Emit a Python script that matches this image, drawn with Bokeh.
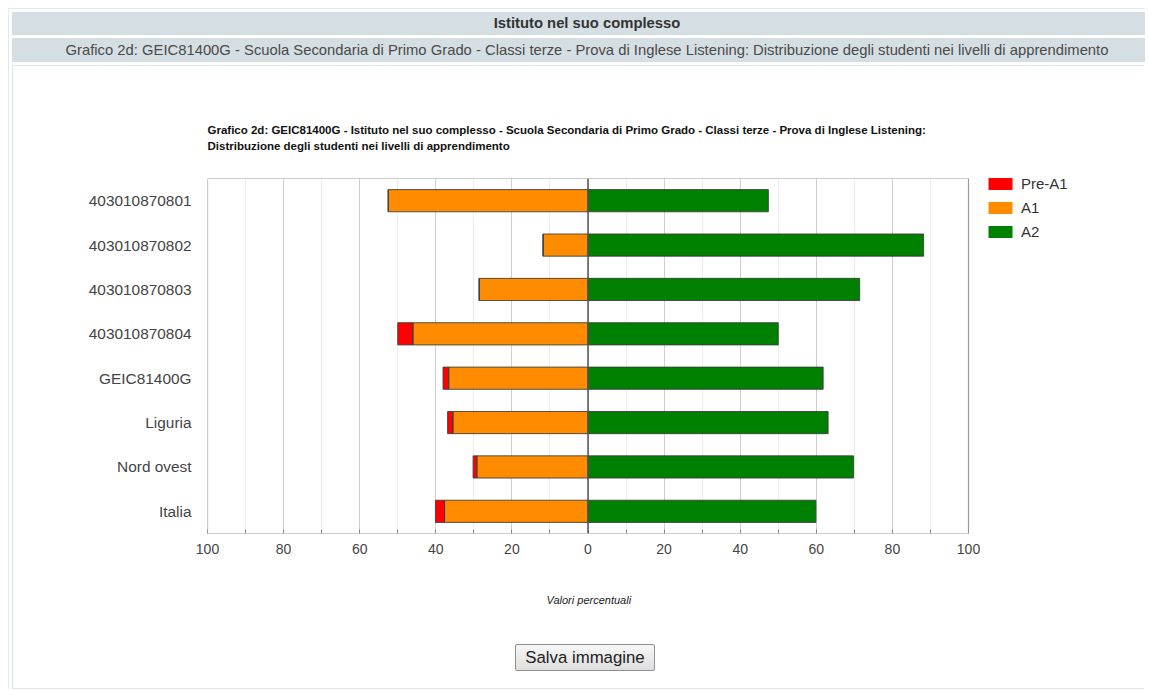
from bokeh.plotting import figure
from bokeh.models import (ColumnDataSource, FactorRange, Range1d, FixedTicker, BoxAnnotation,
                          CustomJSTickFormatter, Span, Legend, LegendItem, Div, Column, Title)
from bokeh.embed import file_html
from bokeh.resources import INLINE

# ---------------- data ----------------
categories = ["403010870801", "403010870802", "403010870803", "403010870804",
              "GEIC81400G", "Liguria", "Nord ovest", "Italia"]
pre_a1 = [0.0, 0.0, 0.0, 4.0, 1.5, 1.4, 1.0, 2.4]
a1 = [52.5, 11.8, 28.6, 46.0, 36.6, 35.5, 29.2, 37.7]
a2 = [47.4, 88.2, 71.4, 50.0, 61.8, 63.1, 69.8, 59.9]
series_labels = ["Pre-A1", "A1", "A2"]
series_colors = ["#ff0000", "#ff8c00", "#008000"]
x_ticks = [-100, -80, -60, -40, -20, 0, 20, 40, 60, 80, 100]
x_minor_ticks = [-90, -70, -50, -30, -10, 10, 30, 50, 70, 90]

header_1 = "Istituto nel suo complesso"
header_2 = ("Grafico 2d: GEIC81400G - Scuola Secondaria di Primo Grado - Classi terze - "
            "Prova di Inglese Listening: Distribuzione degli studenti nei livelli di apprendimento")
chart_title = ("Grafico 2d: GEIC81400G - Istituto nel suo complesso - Scuola Secondaria di Primo Grado - "
               "Classi terze - Prova di Inglese Listening:\nDistribuzione degli studenti nei livelli di apprendimento")
x_label = "Valori percentuali"
button_label = "Salva immagine"

FONT = "Liberation Sans"

# ---------------- source ----------------
src = ColumnDataSource(data=dict(
    cat=categories,
    a2_left=[0.0] * len(a2),
    a2_right=a2,
    a1_left=[-v for v in a1],
    a1_right=[0.0] * len(a1),
    pre_left=[-(v + w) for v, w in zip(a1, pre_a1)],
    pre_right=[-v for v in a1],
))

# plot area: the -100..100 box is 761 px wide; the frame is extended to the
# right so that the legend (outside the box) is not clipped.
FIG_W = 1131
BOX_PX = 761
FRAME_PX = 920
X_MIN = -100
X_MAX = X_MIN + 200 * FRAME_PX / BOX_PX

p = figure(frame_width=FRAME_PX, frame_height=355,
           x_range=Range1d(X_MIN, X_MAX),
           y_range=FactorRange(factors=categories[::-1]),
           output_backend="svg", toolbar_location=None,
           min_border_left=194, min_border_right=FIG_W - 194 - FRAME_PX,
           min_border_top=112, min_border_bottom=0,
           title=chart_title)
p.background_fill_color = "white"
p.border_fill_color = "white"
p.outline_line_color = None

p.title.align = "left"
p.title.vertical_align = "top"
p.title.text_font = FONT
p.title.text_font_size = "11.5px"
p.title.text_font_style = "bold"
p.title.text_color = "#111111"
p.title.text_line_height = 1.3
p.title.standoff = 49

# grid
p.ygrid.grid_line_color = None
p.xgrid.grid_line_color = "#cfcfcf"
p.xgrid.minor_grid_line_color = "#ececec"

# x axis
xa = p.xaxis[0]
xa.ticker = FixedTicker(ticks=x_ticks, minor_ticks=x_minor_ticks)
xa.formatter = CustomJSTickFormatter(code="return Math.abs(tick).toString();")
xa.axis_line_color = None
xa.major_tick_line_color = "#888888"
xa.minor_tick_line_color = "#888888"
xa.major_tick_in = 4
xa.major_tick_out = 0
xa.minor_tick_in = 4
xa.minor_tick_out = 0
xa.major_label_text_font = FONT
xa.major_label_text_font_size = "14px"
xa.major_label_text_color = "#444444"
xa.major_label_standoff = 10

# axis caption, centred under the -100..100 box
x_caption = Title(text=x_label, align="left", offset=339, vertical_align="top", standoff=74,
                  text_font=FONT, text_font_size="11px", text_font_style="italic",
                  text_color="#222222")
p.add_layout(x_caption, "below")

# y axis
ya = p.yaxis[0]
ya.axis_line_color = None
ya.major_tick_line_color = None
ya.minor_tick_line_color = None
ya.major_tick_in = 0
ya.major_tick_out = 0
ya.minor_tick_in = 0
ya.minor_tick_out = 0
ya.major_label_text_font = FONT
ya.major_label_text_font_size = "15.4px"
ya.major_label_text_color = "#444444"
ya.major_label_standoff = 16

# bars: fill-only renderers (used for legend) + outline renderers
bar_h = 0.5
fills = []
for (lcol, rcol), color in zip([("pre_left", "pre_right"), ("a1_left", "a1_right"),
                                ("a2_left", "a2_right")], series_colors):
    r = p.hbar(y="cat", left=lcol, right=rcol, height=bar_h, source=src,
               fill_color=color, line_color=None)
    fills.append(r)
for lcol, rcol in [("pre_left", "pre_right"), ("a1_left", "a1_right"), ("a2_left", "a2_right")]:
    p.hbar(y="cat", left=lcol, right=rcol, height=bar_h, source=src,
           fill_color=None, line_color="#3a3a3a", line_width=1, line_alpha=0.85)

p.add_layout(Span(location=0, dimension="height", line_color="#555555", line_width=1.5))

# box around the -100..100 plotting area (y in synthetic factor coordinates)
p.add_layout(BoxAnnotation(left=x_ticks[0], right=x_ticks[-1], bottom=0, top=len(categories),
                           fill_color=None, fill_alpha=0,
                           line_color="#999999", line_width=1.2, line_alpha=1.0))

legend = Legend(items=[LegendItem(label=lab, renderers=[r]) for lab, r in zip(series_labels, fills)],
                location=(BOX_PX + 17, 293), orientation="vertical",
                glyph_width=30, glyph_height=15, label_height=17, label_width=70, spacing=7,
                padding=0, margin=0, label_standoff=6,
                label_text_font=FONT, label_text_font_size="15px", label_text_color="#333333",
                border_line_color=None, background_fill_alpha=0)
p.add_layout(legend)

# ---------------- page elements ----------------
INNER_W = FIG_W + 2          # 1133
hdr_style = {"background-color": "#d5dfe3", "text-align": "center"}
h1 = Div(text=f'<div style="width:{INNER_W - 17}px;text-align:center;padding-left:17px;'
              f'font-family:\'{FONT}\',Arial;font-size:14.8px;font-weight:bold;color:#333;'
              f'line-height:23px;">{header_1}</div>',
         width=INNER_W, height=23, margin=0, styles=hdr_style)
h2 = Div(text=f'<div style="width:{INNER_W - 17}px;text-align:center;padding-left:17px;'
              f'font-family:\'{FONT}\',Arial;font-size:14.8px;color:#4a4a4a;'
              f'line-height:24px;">{header_2}</div>',
         width=INNER_W, height=24, margin=0, styles=hdr_style)
btn = Div(text=f'<div style="width:{FIG_W - 13}px;text-align:center;padding-left:13px;padding-top:0px;">'
               f'<button style="font-family:\'{FONT}\',Arial;font-size:16.8px;padding:3px 9px 2px 9px;'
               f'border:1px solid #8f8f8f;border-radius:2px;color:#222;'
               f'background:linear-gradient(#f7f7f7,#dedede);">{button_label}</button></div>',
          width=FIG_W, height=44, margin=0, styles={"text-align": "center"})

panel = Column(children=[p, btn], spacing=0, margin=0,
               styles={"border": "1px solid #dde6ea", "border-right": "none"})
outer = Column(children=[h1, h2, panel], spacing=3, margin=(8, 0, 0, 8),
               styles={"border": "1px solid #e2eaee", "border-right": "none",
                       "border-bottom": "none", "padding": "3px 0 0 3px"})

open("out.html", "w").write(file_html(outer, INLINE))
